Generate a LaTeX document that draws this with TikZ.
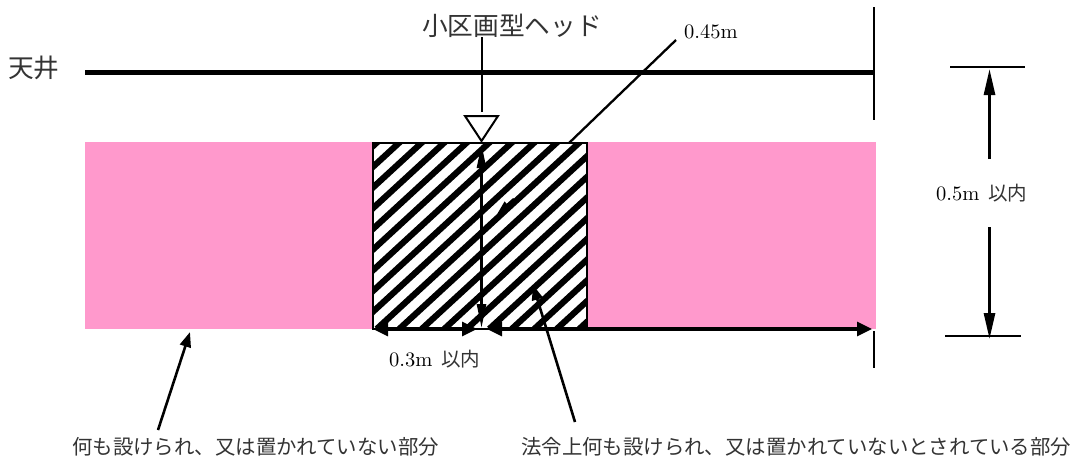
\documentclass[tikz,border=0pt]{standalone}
\usepackage{fontspec}
\newfontface\lmten{lmroman10-regular.otf}
\newfontfamily\jp{Noto Sans CJK JP}[Scale=1]
\usetikzlibrary{arrows.meta}
\definecolor{zonepink}{HTML}{FF99CC}
\definecolor{inkgrey}{HTML}{333333}
\tikzset{
  x=1pt,y=-1pt,
  heavy/.style={line width=4.2pt,black},
  thin rule/.style={line width=2pt,black},
  dimboth/.style={line width=3.2pt,black,{Triangle[length=15pt,width=14pt]}-{Triangle[length=15pt,width=14pt]}},
  lead/.style={line width=2.6pt,black,-{Triangle[length=15pt,width=11pt]}},
  big/.style={inner sep=0pt,text=inkgrey,font=\fontsize{25.7}{28}\selectfont\jp},
  small/.style={inner sep=0pt,text=inkgrey,font=\fontsize{20.4}{24}\selectfont\jp},
  meas/.style={inner sep=0pt,text=black,font=\fontsize{20.5}{24}\selectfont\lmten},
  measjp/.style={inner sep=0pt,text=inkgrey,font=\fontsize{19.5}{24}\selectfont\jp},
}
\begin{document}
\begin{tikzpicture}
\useasboundingbox (0,0) rectangle (1075,464);
% zone
\fill[zonepink] (85,142) rectangle (876,329);
\begin{scope}
  \clip (373,143) rectangle (587,329);
  \fill[white] (373,143) rectangle (587,329);
  \foreach \k in {-4,...,16} {
    \draw[line width=6.2pt,black] ({241.7+22.5*\k},329) -- ++(220,-202.4);
  }
\end{scope}
\draw[line width=2pt] (373,143) rectangle (587,329);
% ceiling
\coordinate (ceilL) at (85,72.5);
\coordinate (ceilR) at (874,72.5);
\draw[heavy] (ceilL) -- (ceilR);
\coordinate (wallT) at (873.5,7);
\coordinate (wallB) at (873.5,120);
\draw[thin rule] (wallT) -- (wallB);
\node[big,anchor=west] (ten) at (8,68) {天井};
% head
\node[big] (headlabel) at (512,26) {小区画型ヘッド};
\coordinate (headtop) at (481.5,112);
\coordinate (headlead) at (481.5,37);
\draw[line width=2pt,fill=white] (465,116) -- (498,116) -- (481.5,141) -- cycle;
\draw[thin rule] (headlead) -- (headtop);
% 0.45
\node[meas,anchor=west] (v45) at (684,32) {0.45m};
\coordinate (l45a) at (676,40);
\coordinate (l45b) at (569,143);
\draw[line width=2.3pt] (l45a) -- (l45b);
\coordinate (h45a) at (514,199);
\coordinate (h45b) at (497,214);
\draw[line width=2.6pt,-{Triangle[length=14pt,width=8pt]}] (h45a) -- (h45b);
% vertical in box
\coordinate (vT) at (481.5,144);
\coordinate (vB) at (481.5,328);
\draw[line width=2.6pt,{Triangle[length=24pt,width=9pt]}-{Triangle[length=24pt,width=9pt]}] (vT) -- (vB);
% bottom dims
\coordinate (b1) at (373,329);
\coordinate (b2) at (477,329);
\coordinate (b3) at (487,329);
\coordinate (b4) at (872,329);
\draw[dimboth] (b1) -- (b2);
\draw[dimboth] (b3) -- (b4);
\coordinate (tickT) at (874,331);
\coordinate (tickB) at (874,368);
\draw[thin rule] (tickT) -- (tickB);
\node[meas,anchor=west] (v03a) at (389,359.5) {0.3m};
\node[measjp,anchor=west] (v03b) at (441,359.5) {以内};
% right dim
\coordinate (rt1) at (950,67); \coordinate (rt2) at (1025,67);
\coordinate (rb1) at (945,335.5); \coordinate (rb2) at (1021,335.5);
\draw[thin rule] (rt1) -- (rt2);
\draw[thin rule] (rb1) -- (rb2);
\coordinate (a1s) at (989.5,159); \coordinate (a1e) at (989.5,69);
\coordinate (a2s) at (989.5,227); \coordinate (a2e) at (989.5,339);
\draw[line width=2.8pt,-{Triangle[length=26pt,width=11pt]}] (a1s) -- (a1e);
\draw[line width=2.8pt,-{Triangle[length=26pt,width=11pt]}] (a2s) -- (a2e);
\node[meas,anchor=west] (v05a) at (936,193.5) {0.5m};
\node[measjp,anchor=west] (v05b) at (988,193.5) {以内};
% leaders
\node[small,anchor=west] (lab1) at (72,447) {何も設けられ、又は置かれていない部分};
\node[small,anchor=west] (lab2) at (521,447) {法令上何も設けられ、又は置かれていないとされている部分};
\coordinate (p1s) at (158,430); \coordinate (p1e) at (190,332);
\coordinate (p2s) at (575,422); \coordinate (p2e) at (533,285);
\draw[lead] (p1s) -- (p1e);
\draw[lead] (p2s) -- (p2e);
\end{tikzpicture}
\end{document}
